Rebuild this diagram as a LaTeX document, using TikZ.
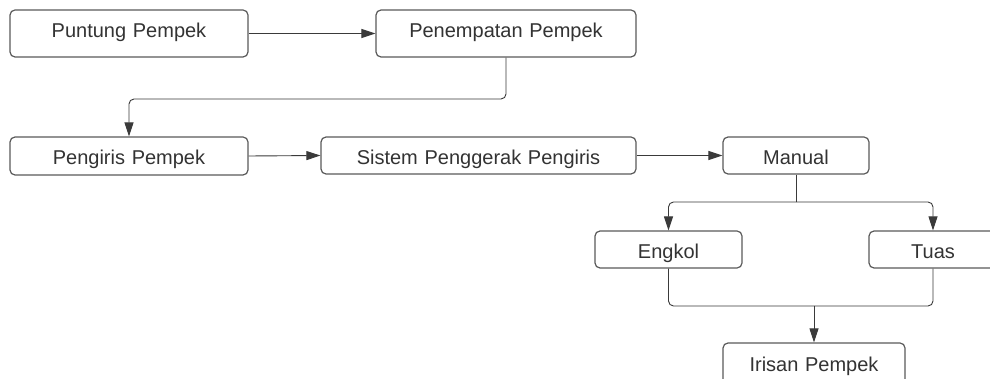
\documentclass[tikz,border=0pt]{standalone}
\usepackage{fontspec}
\setmainfont{Liberation Sans}
\usetikzlibrary{arrows.meta}
\definecolor{boxline}{HTML}{5A5A5A}
\definecolor{txt}{HTML}{333333}
\definecolor{conn}{HTML}{3A3A3A}
\tikzset{
  stepbox/.style={draw=boxline, line width=1.2pt, rounded corners=5pt, fill=white,
    inner sep=0pt, text=txt, font=\fontsize{20}{24}\selectfont, text height=28pt},
  conn/.style={draw=conn, line width=0.9pt, rounded corners=5pt,
    -{Triangle[length=14pt,width=9pt]}},
  plain/.style={draw=conn, line width=0.9pt, rounded corners=5pt}
}
\begin{document}
\begin{tikzpicture}[x=1pt,y=-1pt]
\useasboundingbox[fill=white] (0,0) rectangle (990,379);
\clip (0,0) rectangle (990,379);
\node[stepbox, text width=238pt, align=center, text depth=19pt] (puntung) at (129,33.5) {Puntung Pempek};
\node[stepbox, text width=260pt, align=center, text depth=19pt] (penempatan) at (506,33.5) {Penempatan Pempek};
\node[stepbox, text width=238pt, align=center, text depth=10pt] (pengiris) at (129,156) {Pengiris Pempek};
\node[stepbox, text width=315pt, align=center, text depth=9pt] (sistem) at (478.5,155.5) {Sistem Penggerak Pengiris};
\node[stepbox, text width=146pt, align=center, text depth=9pt] (manual) at (796,155.5) {Manual};
\node[stepbox, text width=147pt, align=center, text depth=9pt] (engkol) at (668.5,249.5) {Engkol};
\node[stepbox, text width=128pt, align=center, text depth=9pt] (tuas) at (933,249.5) {Tuas};
\node[stepbox, text width=182pt, align=center, text depth=18pt] (irisan) at (814,366) {Irisan Pempek};
\coordinate (split) at (796,202);
\coordinate (merge) at (814,306);
\path[conn] (puntung.east) -- (penempatan.west);
\path[conn] (penempatan.south) -- (506,99) -- (129,99) -- (pengiris.north);
\path[conn] (pengiris.east) -- (sistem.west);
\path[conn] (sistem.east) -- (manual.west);
\path[plain] (manual.south) -- (split);
\path[conn] (split) -- (engkol.north |- split) -- (engkol.north);
\path[conn] (split) -- (tuas.north |- split) -- (tuas.north);
\path[plain] (engkol.south) -- (engkol.south |- merge) -- (merge);
\path[plain] (tuas.south) -- (tuas.south |- merge) -- (merge);
\path[conn] (merge) -- (irisan.north);
\end{tikzpicture}
\end{document}
